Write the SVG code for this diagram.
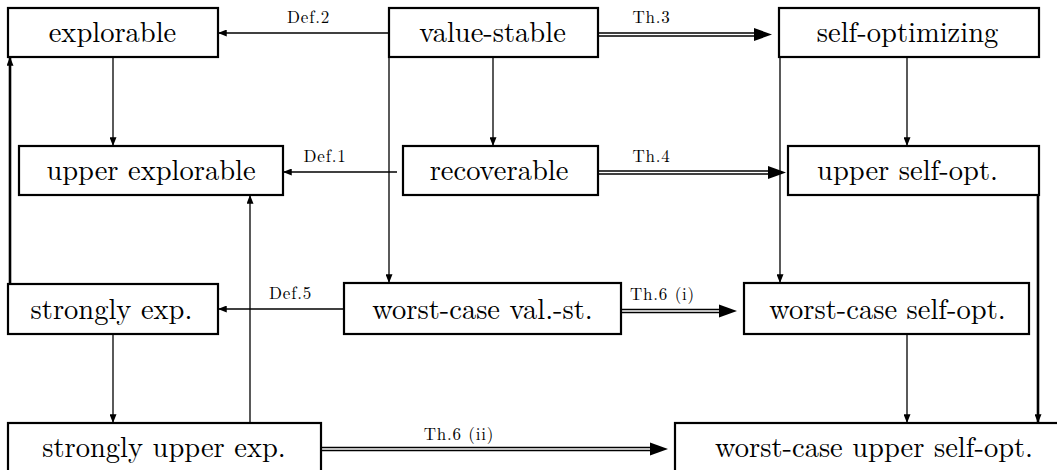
<svg xmlns="http://www.w3.org/2000/svg" width="1057" height="470" viewBox="0 0 1057 470">
<style>
.box{fill:#fff;stroke:#000;stroke-width:2.2}
.t{font-family:"Latin Modern Roman","Liberation Serif",serif;font-size:28.5px;text-anchor:middle;fill:#000}
.l{font-family:"Latin Modern Roman","Liberation Serif",serif;font-size:17px;letter-spacing:0.8px;text-anchor:middle;fill:#000}
.a{stroke:#000;stroke-width:1.3;fill:none;marker-end:url(#ah)}
.k{stroke:#000;stroke-width:2.6;fill:none;marker-end:url(#ah)}
.d{stroke:#000;stroke-width:1.3;fill:none}
.h{fill:#000}
</style>
<defs>
<marker id="ah" viewBox="0 0 10 8" refX="10" refY="4" markerWidth="9" markerHeight="7" markerUnits="userSpaceOnUse" orient="auto">
<path d="M0,0 L10,4 L0,8 z" fill="#000"/>
</marker>
</defs>
<rect width="1057" height="470" fill="#fff"/>
<g id="connectors">
<path class="a" d="M389,33 H218"/>
<path class="a" d="M397,172 H283"/>
<path class="a" d="M344,309 H218"/>
<path class="a" d="M493,57 V146"/>
<path class="a" d="M113,57 V146"/>
<path class="a" d="M907,57 V146"/>
<path class="a" d="M389,57 V283"/>
<path class="a" d="M780,57 V283"/>
<path class="a" d="M250,423 V195"/>
<path class="a" d="M113,334 V423"/>
<path class="a" d="M907,334 V423"/>
<path class="k" d="M10,284 V57"/>
<path class="k" d="M1038,195 V423"/>
<g id="th3">
<path class="d" d="M598,33 H756 M598,36 H756"/>
<polygon class="h" points="754,28 772,34.5 754,41"/>
</g>
<g id="th4">
<path class="d" d="M598,171 H770 M598,174 H770"/>
<polygon class="h" points="768,166 786,172.5 768,179"/>
</g>
<g id="th6i">
<path class="d" d="M621,309.5 H721 M621,312.5 H721"/>
<polygon class="h" points="719,304.5 737,311 719,317.5"/>
</g>
<g id="th6ii">
<path class="d" d="M321,447.5 H652 M321,450.5 H652"/>
<polygon class="h" points="650,442.5 668,449 650,455.5"/>
</g>
<text class="l" x="308.5" y="23">Def.2</text>
<text class="l" x="325" y="162">Def.1</text>
<text class="l" x="290.5" y="299">Def.5</text>
<text class="l" x="651.5" y="23">Th.3</text>
<text class="l" x="651.5" y="162">Th.4</text>
<text class="l" x="662.5" y="300">Th.6 (i)</text>
<text class="l" x="459" y="440">Th.6 (ii)</text>
</g>
<g id="explorable"><rect class="box" x="8" y="8" width="210" height="49"/><text class="t" x="112.5" y="42">explorable</text></g>
<g id="value-stable"><rect class="box" x="389" y="8" width="209" height="49"/><text class="t" x="492.5" y="42">value-stable</text></g>
<g id="self-optimizing"><rect class="box" x="779" y="8" width="260" height="49"/><text class="t" x="907.5" y="42">self-optimizing</text></g>
<g id="upper-explorable"><rect class="box" x="19" y="146" width="264" height="49"/><text class="t" x="151" y="180">upper explorable</text></g>
<g id="recoverable"><rect class="box" x="403" y="146" width="195" height="49"/><text class="t" x="499" y="180">recoverable</text></g>
<g id="upper-self-opt"><rect class="box" x="788" y="146" width="251" height="49"/><text class="t" x="907.5" y="180">upper self-opt.</text></g>
<g id="strongly-exp"><rect class="box" x="8" y="284" width="210" height="50"/><text class="t" x="111.5" y="318.5">strongly exp.</text></g>
<g id="worst-case-val-st"><rect class="box" x="344" y="283" width="277" height="51"/><text class="t" x="482.5" y="318.5">worst-case val.-st.</text></g>
<g id="worst-case-self-opt"><rect class="box" x="744" y="283" width="285" height="51"/><text class="t" x="887.5" y="318.5">worst-case self-opt.</text></g>
<g id="strongly-upper-exp"><rect class="box" x="8" y="423" width="313" height="60"/><text class="t" x="164" y="456.5">strongly upper exp.</text></g>
<g id="worst-case-upper-self-opt"><rect class="box" x="675" y="423" width="400" height="60"/><text class="t" x="874" y="456.5">worst-case upper self-opt.</text></g>
</svg>
